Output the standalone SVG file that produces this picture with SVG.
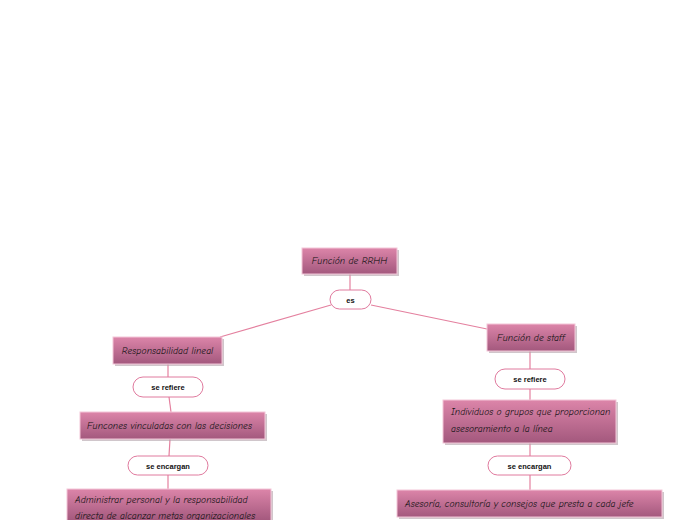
<svg xmlns="http://www.w3.org/2000/svg" width="696" height="520" viewBox="0 0 696 520">
<defs>
<linearGradient id="g" x1="0" y1="0" x2="0" y2="1">
<stop offset="0" stop-color="#dc85a9"/>
<stop offset="1" stop-color="#a3587d"/>
</linearGradient>
<style>
.box{fill:url(#g);stroke:#f3c6d8;stroke-width:1}
.sh{fill:#b0a0a8;opacity:0.6}
.t{font-family:"Comic Neue","Liberation Sans",sans-serif;font-style:italic;font-size:9.5px;fill:#111;letter-spacing:0.1px}
.pill{fill:#fff;stroke:#e07a9e;stroke-width:1}
.lt{font-family:"Liberation Sans",Arial,sans-serif;font-weight:bold;font-size:7.5px;fill:#111;text-anchor:middle}
.c{stroke:#e4809f;stroke-width:1.2;fill:none}
</style>
</defs>
<rect width="696" height="520" fill="#fff"/>
<g id="connectors">
<line class="c" x1="350" y1="274" x2="350" y2="290"/>
<line class="c" x1="331" y1="305" x2="220" y2="337"/>
<line class="c" x1="371" y1="305" x2="487" y2="329"/>
<line class="c" x1="168" y1="364" x2="168" y2="377"/>
<line class="c" x1="169" y1="397" x2="171" y2="412"/>
<line class="c" x1="170" y1="439" x2="169" y2="456"/>
<line class="c" x1="168" y1="475" x2="168" y2="489"/>
<line class="c" x1="530" y1="351" x2="530" y2="369"/>
<line class="c" x1="530" y1="389" x2="530" y2="400"/>
<line class="c" x1="530" y1="443" x2="530" y2="456"/>
<line class="c" x1="530" y1="475" x2="530" y2="490"/>
</g>
<g id="n-rrhh">
<rect class="sh" x="304" y="250" width="95" height="26"/>
<rect class="box" x="302" y="248" width="95" height="26"/>
<text class="t" x="349.5" y="264" text-anchor="middle">Función de RRHH</text>
</g>
<g id="l-es">
<rect class="pill" x="330" y="290" width="41" height="19" rx="9.5"/>
<text class="lt" x="350.5" y="302.5">es</text>
</g>
<g id="n-linea">
<rect class="sh" x="115" y="339" width="109" height="27"/>
<rect class="box" x="113" y="337" width="109" height="27"/>
<text class="t" x="167.5" y="353.5" text-anchor="middle">Responsabilidad lineal</text>
</g>
<g id="l-refiere1">
<rect class="pill" x="133" y="377" width="70" height="20" rx="10"/>
<text class="lt" x="168" y="390">se refiere</text>
</g>
<g id="n-funciones">
<rect class="sh" x="82" y="414" width="185" height="27"/>
<rect class="box" x="80" y="412" width="185" height="27"/>
<text class="t" x="87" y="429">Funcones vinculadas con las decisiones</text>
</g>
<g id="l-encargan1">
<rect class="pill" x="128" y="456" width="80" height="19" rx="9.5"/>
<text class="lt" x="168" y="468.5">se encargan</text>
</g>
<g id="n-admin">
<rect class="sh" x="69" y="491" width="204" height="32"/>
<rect class="box" x="67" y="489" width="204" height="32"/>
<text class="t" x="75" y="503">Administrar personal y la responsabilidad</text>
<text class="t" x="75" y="519">directa de alcanzar metas organizacionales</text>
</g>
<g id="n-staff">
<rect class="sh" x="489" y="326" width="88" height="27"/>
<rect class="box" x="487" y="324" width="88" height="27"/>
<text class="t" x="531" y="340.5" text-anchor="middle">Función de staff</text>
</g>
<g id="l-refiere2">
<rect class="pill" x="495" y="369" width="70" height="20" rx="10"/>
<text class="lt" x="530" y="382">se refiere</text>
</g>
<g id="n-individuos">
<rect class="sh" x="445" y="402" width="173" height="43"/>
<rect class="box" x="443" y="400" width="173" height="43"/>
<text class="t" x="451" y="415">Individuos o grupos que proporcionan</text>
<text class="t" x="451" y="432">asesoramiento a la línea</text>
</g>
<g id="l-encargan2">
<rect class="pill" x="488" y="456" width="83" height="19" rx="9.5"/>
<text class="lt" x="529.5" y="468.5">se encargan</text>
</g>
<g id="n-asesoria">
<rect class="sh" x="399" y="492" width="265" height="27"/>
<rect class="box" x="397" y="490" width="265" height="27"/>
<text class="t" x="405" y="506.5">Asesoría, consultoría y consejos que presta a cada jefe</text>
</g>
</svg>
